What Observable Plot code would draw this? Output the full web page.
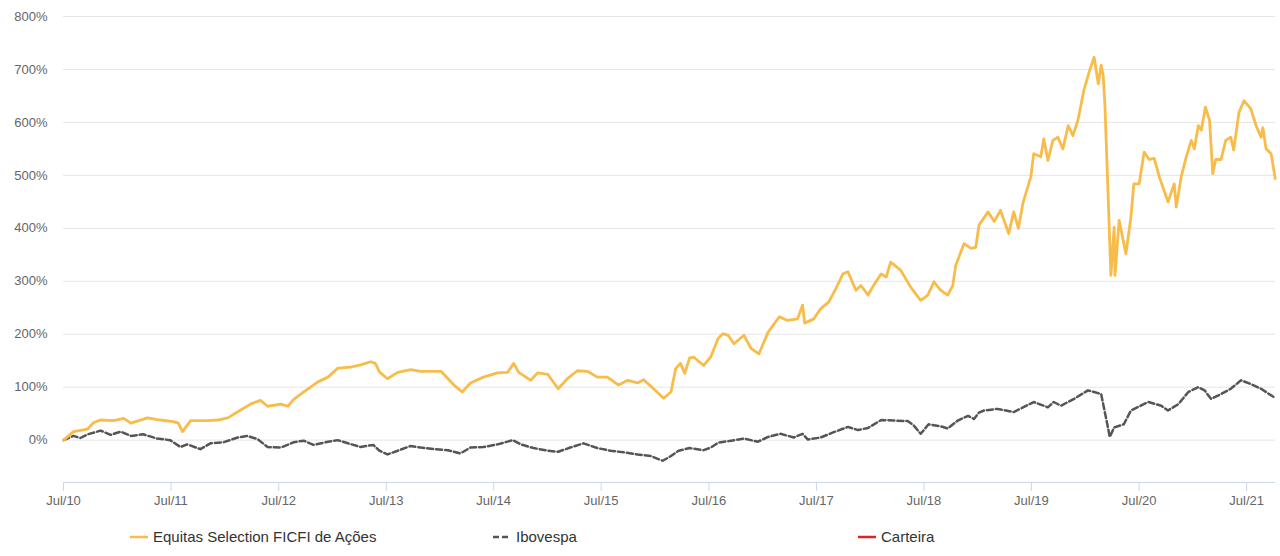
<!DOCTYPE html>
<html>
<head>
<meta charset="utf-8">
<script src="https://cdn.jsdelivr.net/npm/d3@7"></script>
<script src="https://cdn.jsdelivr.net/npm/@observablehq/plot@0.6"></script>
<style>
  html, body { margin: 0; padding: 0; background: #fff; }
  body { width: 1280px; height: 556px; overflow: hidden; font-family: "Liberation Sans", Arial, sans-serif; }
  #chart { position: relative; width: 1280px; }
  #legend { position: relative; height: 41px; width: 1280px; font-size: 15px; color: #333; }
  .item { position: absolute; top: 13px; display: flex; align-items: center; white-space: nowrap; }
  .item svg { margin-right: 5px; }
</style>
</head>
<body>
<div id="chart"></div>
<div id="legend"></div>
<script>
// ---- Data ----
const seriesNames = ["Equitas Selection FICFI de Ações", "Ibovespa", "Carteira"];
const seriesColors = ["#f8bc4a", "#555555", "#d62728"];

const eqDates = ["2010-07-01","2010-08-04","2010-09-21","2010-10-11","2010-11-04","2010-12-18","2011-01-21","2011-02-15","2011-04-12","2011-05-25","2011-07-09","2011-07-26","2011-08-09","2011-09-06","2011-11-03","2011-12-06","2012-01-10","2012-02-23","2012-03-27","2012-04-30","2012-05-24","2012-07-08","2012-08-01","2012-08-21","2012-09-24","2012-11-11","2012-12-15","2013-01-18","2013-03-02","2013-04-05","2013-05-09","2013-05-25","2013-06-08","2013-07-05","2013-08-09","2013-09-22","2013-10-26","2014-01-03","2014-02-16","2014-03-16","2014-04-13","2014-05-27","2014-07-14","2014-08-17","2014-09-07","2014-09-24","2014-11-04","2014-11-27","2015-01-01","2015-02-05","2015-03-08","2015-04-11","2015-05-15","2015-06-18","2015-07-22","2015-08-29","2015-09-29","2015-11-02","2015-11-22","2015-12-26","2016-01-29","2016-02-23","2016-03-10","2016-03-26","2016-04-10","2016-04-26","2016-05-10","2016-06-13","2016-07-07","2016-08-01","2016-08-17","2016-09-04","2016-09-24","2016-10-28","2016-11-21","2016-12-18","2017-01-18","2017-02-25","2017-03-25","2017-04-28","2017-05-15","2017-05-22","2017-06-22","2017-07-15","2017-08-12","2017-09-05","2017-09-29","2017-10-16","2017-11-12","2017-11-29","2017-12-23","2018-01-13","2018-02-06","2018-02-23","2018-03-10","2018-04-13","2018-05-17","2018-06-20","2018-07-14","2018-08-04","2018-08-27","2018-09-20","2018-10-07","2018-10-17","2018-11-14","2018-12-08","2018-12-24","2019-01-04","2019-02-04","2019-02-25","2019-03-18","2019-04-15","2019-05-02","2019-05-18","2019-06-02","2019-06-29","2019-07-09","2019-08-02","2019-08-12","2019-08-26","2019-09-12","2019-09-29","2019-10-16","2019-11-03","2019-11-19","2019-12-06","2019-12-26","2020-01-13","2020-01-30","2020-02-13","2020-02-23","2020-03-01","2020-03-07","2020-03-17","2020-03-27","2020-04-07","2020-04-10","2020-04-24","2020-05-17","2020-06-03","2020-06-13","2020-07-01","2020-07-18","2020-08-04","2020-08-21","2020-09-07","2020-10-07","2020-10-28","2020-11-04","2020-11-21","2020-12-08","2020-12-25","2021-01-04","2021-01-18","2021-01-28","2021-02-11","2021-02-25","2021-03-08","2021-03-18","2021-04-05","2021-04-21","2021-05-08","2021-05-18","2021-06-05","2021-06-22","2021-07-15","2021-08-02","2021-08-19","2021-08-25","2021-09-05","2021-09-22","2021-10-06"];
const eqValues = [0,16,21,33,38,37,41,32,42,38,35,32,16,37,37,38,42,57,68,75,64,68,64,77,91,110,119,136,138,142,148,145,129,116,128,133,130,130,104,91,108,119,127,128,145,128,113,127,124,97,116,131,130,119,119,104,113,108,114,97,79,91,135,145,126,155,157,141,157,192,201,198,182,198,173,163,204,233,226,229,255,221,229,248,261,286,314,318,283,292,274,294,314,308,336,321,289,264,274,299,283,274,292,330,371,362,364,406,431,413,434,390,431,400,447,497,541,535,569,528,566,572,550,594,575,604,660,695,723,673,708,688,629,472,311,402,311,415,352,421,484,484,544,530,532,498,450,484,440,498,535,566,550,594,585,629,604,503,530,530,566,572,548,619,641,626,594,572,590,550,541,494];

const ibDates = ["2010-07-01","2010-08-04","2010-08-27","2010-09-21","2010-11-04","2010-12-08","2011-01-11","2011-02-15","2011-03-28","2011-05-15","2011-06-28","2011-08-02","2011-08-25","2011-10-09","2011-11-12","2011-12-26","2012-02-13","2012-03-16","2012-04-20","2012-05-24","2012-07-08","2012-08-21","2012-09-24","2012-10-27","2012-12-15","2013-01-18","2013-02-21","2013-04-05","2013-05-18","2013-06-08","2013-07-05","2013-08-09","2013-09-22","2013-10-26","2013-12-09","2014-01-26","2014-03-10","2014-04-13","2014-05-27","2014-07-14","2014-09-04","2014-10-01","2014-11-14","2015-01-01","2015-02-05","2015-03-18","2015-05-02","2015-06-18","2015-08-02","2015-09-15","2015-11-02","2015-12-16","2016-01-26","2016-02-23","2016-03-20","2016-04-26","2016-06-13","2016-07-07","2016-08-01","2016-09-14","2016-10-28","2016-12-14","2017-01-18","2017-03-01","2017-04-15","2017-05-15","2017-06-02","2017-07-15","2017-08-29","2017-10-16","2017-11-19","2017-12-23","2018-02-06","2018-03-20","2018-05-07","2018-05-27","2018-06-20","2018-07-17","2018-08-27","2018-09-20","2018-10-24","2018-11-28","2018-12-18","2019-01-04","2019-01-21","2019-03-08","2019-05-02","2019-07-09","2019-08-26","2019-09-15","2019-10-09","2019-11-23","2020-01-09","2020-01-30","2020-02-23","2020-03-03","2020-03-17","2020-03-23","2020-04-07","2020-05-10","2020-06-03","2020-08-01","2020-09-14","2020-10-07","2020-11-11","2020-12-15","2021-01-18","2021-02-08","2021-03-02","2021-04-05","2021-05-08","2021-06-12","2021-07-15","2021-08-19","2021-10-02"];
const ibValues = [0,8,4,11,18,10,16,8,11,3,0,-13,-8,-17,-6,-4,5,8,2,-13,-14,-4,-1,-9,-3,0,-6,-13,-9,-20,-27,-20,-11,-14,-17,-19,-25,-14,-13,-8,0,-8,-15,-20,-22,-14,-6,-15,-20,-23,-27,-30,-39,-30,-20,-15,-19,-14,-5,-1,3,-3,6,12,5,12,1,5,15,25,19,23,38,37,36,28,12,30,26,22,37,46,40,52,56,59,53,72,62,72,65,78,94,91,87,62,24,6,24,30,56,72,65,56,68,91,100,94,78,87,97,113,106,97,81];

const yTicks = [0,100,200,300,400,500,600,700,800];
const xTickYears = [2010,2011,2012,2013,2014,2015,2016,2017,2018,2019,2020,2021];
const xDomain = ["2010-07-01","2021-10-07"];
const yDomain = [-80, 800];

// ---- Build tables ----
const eq = eqDates.map((d, i) => ({date: new Date(d), value: eqValues[i]}));
const ib = ibDates.map((d, i) => ({date: new Date(d), value: ibValues[i]}));
const xTicks = xTickYears.map(y => new Date(Date.UTC(y, 6, 1)));

const chart = Plot.plot({
  width: 1280,
  height: 515,
  marginLeft: 63,
  marginRight: 5,
  marginTop: 16,
  marginBottom: 33,
  style: {fontFamily: "'Liberation Sans', Arial, sans-serif", fontSize: "13px", background: "#fff"},
  x: {type: "utc", domain: xDomain.map(d => new Date(d))},
  y: {domain: yDomain},
  marks: [
    Plot.ruleY(yTicks, {stroke: "#e6e6e6", strokeWidth: 1}),
    Plot.ruleY([yDomain[0]], {stroke: "#ccd6eb", strokeWidth: 1}),
    Plot.axisY({ticks: yTicks, tickSize: 0, tickPadding: 16, tickFormat: d => d + "%", fill: "#666", fontSize: 13, label: null}),
    Plot.axisX({ticks: xTicks, tickSize: 9, tickPadding: 4, stroke: "#ccd6eb", fill: "#666", fontSize: 13, label: null,
      tickFormat: d => "Jul/" + String(d.getUTCFullYear()).slice(2)}),
    Plot.line(ib, {x: "date", y: "value", stroke: seriesColors[1], strokeWidth: 2.5, strokeDasharray: "6,3", strokeLinejoin: "round"}),
    Plot.line(eq, {x: "date", y: "value", stroke: seriesColors[0], strokeWidth: 2.8, strokeLinejoin: "round"})
  ]
});
document.getElementById("chart").appendChild(chart);

// ---- Legend ----
const legend = document.getElementById("legend");
const legendLeft = [130, 493, 858];
seriesNames.forEach((name, i) => {
  const item = document.createElement("div");
  item.className = "item";
  item.style.left = legendLeft[i] + "px";
  const dash = i === 1 ? 'stroke-dasharray="6,3"' : "";
  item.innerHTML = `<svg width="18" height="10"><line x1="0" y1="5" x2="18" y2="5" stroke="${seriesColors[i]}" stroke-width="2.5" ${dash}/></svg><span>${name}</span>`;
  legend.appendChild(item);
});
</script>
</body>
</html>
